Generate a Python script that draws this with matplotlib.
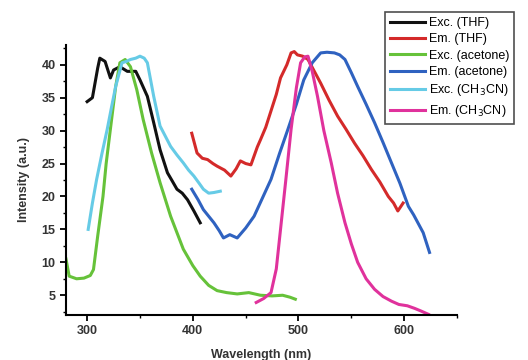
import numpy as np
import matplotlib
matplotlib.use('Agg')
import matplotlib.pyplot as plt
from matplotlib.ticker import MultipleLocator

plt.rcParams['font.family'] = ['Liberation Sans', 'DejaVu Sans']

# Exc. (THF)
exc_thf_x = [300, 305, 310, 312, 317, 322, 325, 331, 338, 346, 350, 357, 363, 369, 376, 380, 385, 390, 395, 401, 407]
exc_thf_y = [34.4, 35.0, 39.5, 41.0, 40.5, 38.0, 39.2, 39.7, 39.0, 39.0, 37.7, 35.2, 31.2, 27.1, 23.6, 22.5, 21.1, 20.5, 19.5, 17.8, 16.0]

# Em. (THF)
em_thf_x = [399, 404, 409, 414, 419, 423, 430, 436, 441, 445, 450, 455, 461, 464, 469, 474, 479, 483, 489, 493, 496, 499, 504, 509, 515, 521, 529, 537, 545, 553, 561, 569, 577, 585, 590, 594, 599]
em_thf_y = [29.6, 26.6, 25.8, 25.6, 25.0, 24.6, 24.0, 23.1, 24.2, 25.4, 25.0, 24.8, 27.5, 28.6, 30.5, 33.0, 35.5, 38.0, 40.0, 41.8, 42.0, 41.5, 41.3, 40.8, 39.0, 37.2, 34.6, 32.2, 30.2, 28.1, 26.2, 24.1, 22.2, 20.0, 19.0, 17.8, 19.0]

# Exc. (acetone)
exc_ace_x = [280, 283, 290, 297, 303, 306, 310, 315, 318, 322, 327, 331, 336, 341, 347, 353, 361, 369, 379, 391, 400, 407, 415, 423, 432, 442, 453, 464, 475, 485, 492, 497]
exc_ace_y = [10.5, 7.9, 7.5, 7.6, 8.0, 8.9, 14.0, 20.0, 25.0, 30.2, 36.7, 40.3, 40.8, 39.7, 36.2, 31.7, 26.6, 22.1, 17.0, 12.0, 9.5, 7.9, 6.5, 5.7, 5.4, 5.2, 5.4, 5.0, 4.9, 5.0, 4.7, 4.4]

# Em. (acetone)
em_ace_x = [399, 405, 410, 415, 420, 425, 429, 435, 442, 450, 458, 466, 474, 482, 490, 498, 505, 513, 521, 527, 534, 539, 544, 550, 556, 564, 572, 580, 588, 596, 604, 609, 613, 618, 624]
em_ace_y = [21.1, 19.5, 18.0, 17.0, 16.0, 14.8, 13.7, 14.2, 13.7, 15.2, 17.0, 19.8, 22.6, 26.5, 30.2, 34.0, 37.7, 40.3, 41.8, 41.9, 41.8, 41.5, 40.8, 38.8, 36.7, 34.0, 31.2, 28.2, 25.1, 22.0, 18.5, 17.2, 16.0, 14.5, 11.5]

# Exc. (CH3CN)
exc_acn_x = [301, 305, 309, 314, 319, 323, 327, 333, 337, 341, 346, 350, 354, 357, 363, 369, 379, 385, 391, 396, 401, 406, 410, 415, 420, 426]
exc_acn_y = [15.0, 19.0, 22.6, 26.5, 30.2, 33.5, 36.7, 40.3, 40.5, 40.8, 41.0, 41.3, 41.0, 40.3, 35.2, 30.7, 27.6, 26.3, 25.1, 24.0, 23.1, 22.0, 21.1, 20.5, 20.6, 20.8]

# Em. (CH3CN)
em_acn_x = [460, 467, 474, 479, 483, 488, 493, 498, 502, 506, 509, 513, 518, 524, 531, 537, 544, 550, 556, 564, 572, 580, 588, 595, 603, 610, 616, 623]
em_acn_y = [3.9, 4.5, 5.4, 9.0, 15.0, 22.5, 30.2, 36.5, 40.3, 41.2, 41.3, 39.0, 35.2, 30.0, 25.1, 20.5, 16.0, 12.8, 10.0, 7.5, 5.9, 4.8, 4.1, 3.6, 3.4, 3.0, 2.6, 2.1]

series = [
    (exc_thf_x, exc_thf_y, '#111111', 'Exc. (THF)'),
    (em_thf_x, em_thf_y, '#d42a2a', 'Em. (THF)'),
    (exc_ace_x, exc_ace_y, '#66c23a', 'Exc. (acetone)'),
    (em_ace_x, em_ace_y, '#2f62c0', 'Em. (acetone)'),
    (exc_acn_x, exc_acn_y, '#66cbe6', 'Exc. (CH$_3$CN)'),
    (em_acn_x, em_acn_y, '#e0329c', 'Em. (CH$_3$CN)'),
]

fig = plt.figure(figsize=(5.28, 3.60), dpi=100)
ax = fig.add_axes([66 / 528, 1 - 315 / 360, (457 - 66) / 528, (315 - 45) / 360])

for x, y, c, lab in series:
    ax.plot(x, y, color=c, lw=2.2, label=lab)

ax.set_xlim(280, 650)
ax.set_ylim(2, 43)
ax.xaxis.set_major_locator(MultipleLocator(100))
ax.xaxis.set_minor_locator(MultipleLocator(50))
ax.yaxis.set_major_locator(MultipleLocator(5))
ax.yaxis.set_minor_locator(MultipleLocator(2.5))
ax.set_yticks([5, 10, 15, 20, 25, 30, 35, 40])
ax.spines['top'].set_visible(False)
ax.spines['right'].set_visible(False)
ax.spines['left'].set_linewidth(1.5)
ax.spines['bottom'].set_linewidth(1.5)
ax.tick_params(which='major', direction='out', length=4, width=1.3, labelsize=9)
ax.tick_params(which='minor', direction='out', length=2.5, width=1.0)
for t in ax.get_xticklabels() + ax.get_yticklabels():
    t.set_fontweight('bold')
    t.set_color('#333333')

ax.set_xlabel('Wavelength (nm)', fontsize=9, fontweight='bold', color='#333333', labelpad=8)
ax.set_ylabel('Intensity (a.u.)', fontsize=9, fontweight='bold', color='#333333', labelpad=8)

leg = fig.legend(loc='upper left', bbox_to_anchor=(385 / 528, 1 - 12 / 360), fontsize=9,
                 frameon=True, fancybox=False, edgecolor='#222222', handlelength=2.8,
                 labelspacing=0.35, borderpad=0.4, handletextpad=0.3, borderaxespad=0)
leg.get_frame().set_linewidth(1.2)

fig.savefig('out.png', dpi=100)
